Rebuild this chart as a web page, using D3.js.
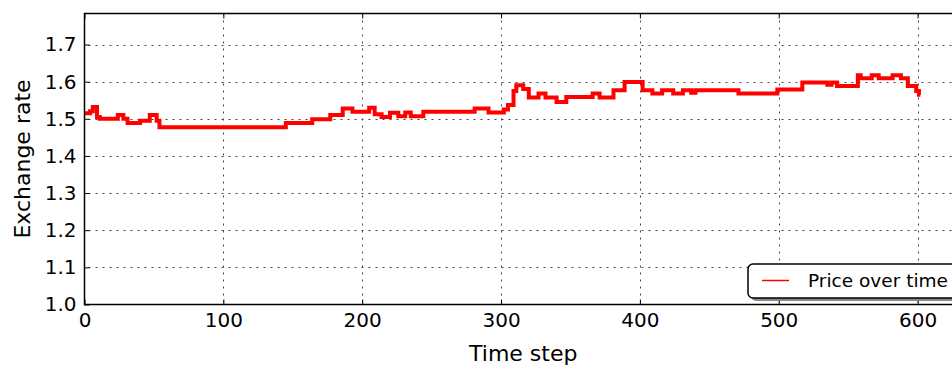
<!DOCTYPE html>
<html>
<head>
<meta charset="utf-8">
<script src="https://cdn.jsdelivr.net/npm/d3@7"></script>
<style>
  body { margin: 0; background: #fff; }
  svg { display: block; font-family: "DejaVu Sans", sans-serif; }
</style>
</head>
<body>
<svg id="chart" width="952" height="365"></svg>
<script>
// step-wise price series: time step where a level starts, and the level
const steps = [0, 4, 6, 9, 11, 24, 28, 31, 40, 47, 52, 54, 145, 164, 177, 186, 193, 205, 209, 214, 220, 226, 231, 235, 244, 281, 291, 302, 305, 309, 311, 316, 320, 327, 332, 340, 347, 366, 371, 381, 389, 402, 409, 416, 424, 431, 437, 440, 471, 499, 517, 535, 538, 542, 557, 559, 567, 572, 582, 588, 593, 599, 601, 602];
const prices = [1.515, 1.52, 1.532, 1.505, 1.50, 1.51, 1.50, 1.489, 1.495, 1.51, 1.495, 1.477, 1.489, 1.499, 1.51, 1.528, 1.519, 1.53, 1.512, 1.505, 1.516, 1.507, 1.517, 1.507, 1.519, 1.528, 1.517, 1.525, 1.537, 1.575, 1.59, 1.58, 1.557, 1.568, 1.557, 1.545, 1.559, 1.568, 1.557, 1.577, 1.599, 1.577, 1.568, 1.577, 1.568, 1.577, 1.570, 1.577, 1.568, 1.579, 1.598, 1.592, 1.598, 1.588, 1.617, 1.609, 1.617, 1.609, 1.617, 1.609, 1.588, 1.575, 1.565, 1.565];
const xTicks = [0, 100, 200, 300, 400, 500, 600];
const yTicks = [1.0, 1.1, 1.2, 1.3, 1.4, 1.5, 1.6, 1.7];

const svg = d3.select('#chart');
const plotLeft = 84.5, plotRight = 962, plotTop = 13.5, plotBottom = 304.5;

const x = d3.scaleLinear().domain([0, 632]).range([plotLeft, plotRight]);
const y = d3.scaleLinear().domain([1.0, 1.7835]).range([plotBottom, plotTop]);

// dotted grid
svg.append('g')
  .selectAll('line')
  .data(xTicks.slice(1))
  .enter()
  .append('line')
  .attr('x1', (d) => Math.round(x(d)) + 0.5).attr('x2', (d) => Math.round(x(d)) + 0.5)
  .attr('y1', plotTop).attr('y2', plotBottom)
  .attr('stroke', '#444').attr('stroke-width', 1)
  .attr('stroke-dasharray', '2,5');

svg.append('g')
  .selectAll('line')
  .data(yTicks.slice(1))
  .enter()
  .append('line')
  .attr('x1', plotLeft + 4).attr('x2', plotRight)
  .attr('y1', (d) => Math.round(y(d)) + 0.5).attr('y2', (d) => Math.round(y(d)) + 0.5)
  .attr('stroke', '#444').attr('stroke-width', 1)
  .attr('stroke-dasharray', '2,5');

// price line
const data = steps.map((t, i) => ({ t, v: prices[i] }));
const line = d3.line()
  .x((d) => x(d.t))
  .y((d) => y(d.v))
  .curve(d3.curveStepAfter);

svg.append('path')
  .datum(data)
  .attr('fill', 'none')
  .attr('stroke', '#ff0000')
  .attr('stroke-width', 4)
  .attr('d', line);

// axes with inward ticks
const xAxis = d3.axisBottom(x).tickValues(xTicks).tickSize(-5).tickPadding(8).tickFormat(d3.format('d'));
const yAxis = d3.axisLeft(y).tickValues(yTicks).tickSize(-5).tickPadding(8).tickFormat(d3.format('.1f'));

const gx = svg.append('g').attr('transform', `translate(0,${plotBottom})`).call(xAxis);
const gy = svg.append('g').attr('transform', `translate(${plotLeft},0)`).call(yAxis);

// top mirrored ticks
svg.append('g').attr('transform', `translate(0,${plotTop})`)
  .call(d3.axisTop(x).tickValues(xTicks).tickSize(-5).tickFormat(''));

svg.selectAll('.domain').remove();
svg.selectAll('.tick line').attr('stroke', '#000');
[gx, gy].forEach((g) => {
  g.selectAll('.tick text')
    .attr('font-size', 20)
    .attr('font-family', '"DejaVu Sans", sans-serif')
    .attr('fill', '#000');
});

// frame
svg.append('rect')
  .attr('x', plotLeft).attr('y', plotTop)
  .attr('width', plotRight - plotLeft).attr('height', plotBottom - plotTop)
  .attr('fill', 'none').attr('stroke', '#000').attr('stroke-width', 1.5);

// axis labels
svg.append('text')
  .attr('x', (plotLeft + plotRight) / 2).attr('y', 361)
  .attr('text-anchor', 'middle')
  .attr('font-size', 22)
  .text('Time step');

svg.append('text')
  .attr('transform', `translate(30,${(plotTop + plotBottom) / 2}) rotate(-90)`)
  .attr('text-anchor', 'middle')
  .attr('font-size', 22)
  .text('Exchange rate');

// legend
const legend = svg.append('g').attr('transform', 'translate(748,264)');
legend.append('rect')
  .attr('x', 3).attr('y', 3).attr('width', 216).attr('height', 34).attr('rx', 5)
  .attr('fill', '#888');
legend.append('rect')
  .attr('x', 0).attr('y', 0).attr('width', 216).attr('height', 34).attr('rx', 5)
  .attr('fill', '#fff').attr('stroke', '#000').attr('stroke-width', 1.5);
legend.append('line')
  .attr('x1', 14).attr('x2', 41).attr('y1', 16.5).attr('y2', 16.5)
  .attr('stroke', '#ff0000').attr('stroke-width', 1.5);
legend.append('text')
  .attr('x', 60).attr('y', 23)
  .attr('font-size', 18.5)
  .text('Price over time');
</script>
</body>
</html>
